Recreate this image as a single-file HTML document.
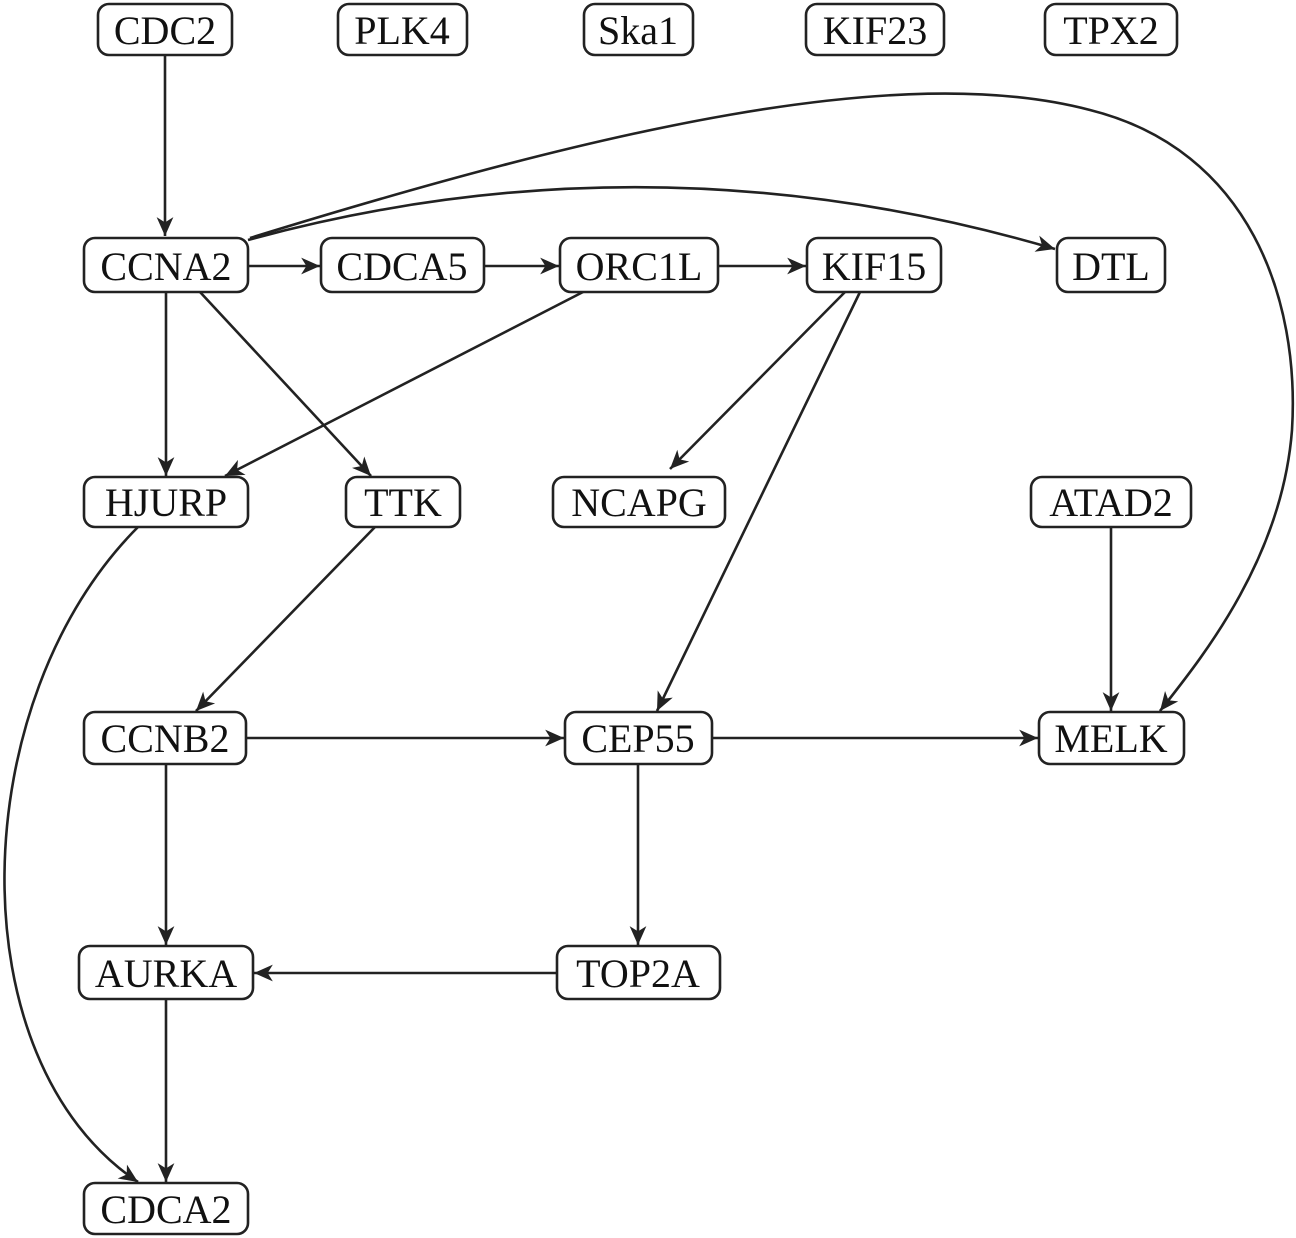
<!DOCTYPE html>
<html><head><style>html,body{margin:0;padding:0;background:#fff}svg{display:block}</style></head>
<body>
<svg width="1296" height="1238" viewBox="0 0 1296 1238" xmlns="http://www.w3.org/2000/svg">
<defs>
<marker id="a" markerUnits="userSpaceOnUse" markerWidth="22" markerHeight="22" viewBox="-19 -9 21 18" refX="0" refY="0" orient="auto">
<path d="M0,0 L-18,-8 L-13,0 L-18,8 Z" fill="#222"/>
</marker>
</defs>
<g fill="none" stroke="#222" stroke-width="2.6" marker-end="url(#a)">
<path d="M165,55 L165,236"/>
<path d="M248,266 L320,266"/>
<path d="M484,266 L559,266"/>
<path d="M718,266 L806,266"/>
<path d="M248,240 Q650,130 1055,249"/>
<path d="M250,238 C600,130 900,60 1090,110 C1250,150 1300,300 1292,430 C1282,560 1200,660 1160,711"/>
<path d="M166,292 L166,476"/>
<path d="M200,292 L371,476"/>
<path d="M583,292 L225,476"/>
<path d="M845,292 L670,469"/>
<path d="M860,292 L657,711"/>
<path d="M1111,527 L1111,711"/>
<path d="M375,527 L196,711"/>
<path d="M138,527 C-35,700 -45,1060 138,1182"/>
<path d="M246,738 L564,738"/>
<path d="M712,738 L1038,738"/>
<path d="M166,764 L166,945"/>
<path d="M638,764 L638,945"/>
<path d="M557,973 L254,973"/>
<path d="M166,999 L166,1182"/>
</g>
<g stroke="#222" stroke-width="2.6" fill="#fff">
<rect x="98" y="4" width="134" height="51" rx="11"/>
<rect x="338" y="4" width="129" height="51" rx="11"/>
<rect x="584" y="4" width="109" height="51" rx="11"/>
<rect x="806" y="4" width="138" height="51" rx="11"/>
<rect x="1045" y="4" width="132" height="51" rx="11"/>
<rect x="84" y="238" width="164" height="54" rx="11"/>
<rect x="321" y="238" width="163" height="54" rx="11"/>
<rect x="560" y="238" width="158" height="54" rx="11"/>
<rect x="807" y="238" width="134" height="54" rx="11"/>
<rect x="1057" y="238" width="108" height="54" rx="11"/>
<rect x="84" y="477" width="164" height="50" rx="11"/>
<rect x="346" y="477" width="114" height="50" rx="11"/>
<rect x="553" y="477" width="172" height="50" rx="11"/>
<rect x="1031" y="477" width="160" height="50" rx="11"/>
<rect x="84" y="712" width="162" height="52" rx="11"/>
<rect x="565" y="712" width="147" height="52" rx="11"/>
<rect x="1039" y="712" width="145" height="52" rx="11"/>
<rect x="79" y="946" width="174" height="53" rx="11"/>
<rect x="557" y="946" width="163" height="53" rx="11"/>
<rect x="84" y="1183" width="164" height="51" rx="11"/>
</g>
<g font-family="Liberation Serif, serif" font-size="40" fill="#111" text-anchor="middle">
<text x="165" y="44">CDC2</text>
<text x="402" y="44">PLK4</text>
<text x="638" y="44">Ska1</text>
<text x="875" y="44">KIF23</text>
<text x="1111" y="44">TPX2</text>
<text x="166" y="280">CCNA2</text>
<text x="402" y="280">CDCA5</text>
<text x="639" y="280">ORC1L</text>
<text x="874" y="280">KIF15</text>
<text x="1111" y="280">DTL</text>
<text x="166" y="516">HJURP</text>
<text x="403" y="516">TTK</text>
<text x="639" y="516">NCAPG</text>
<text x="1111" y="516">ATAD2</text>
<text x="165" y="752">CCNB2</text>
<text x="638" y="752">CEP55</text>
<text x="1111" y="752">MELK</text>
<text x="166" y="987">AURKA</text>
<text x="638" y="987">TOP2A</text>
<text x="166" y="1223">CDCA2</text>
</g>
</svg>
</body></html>
